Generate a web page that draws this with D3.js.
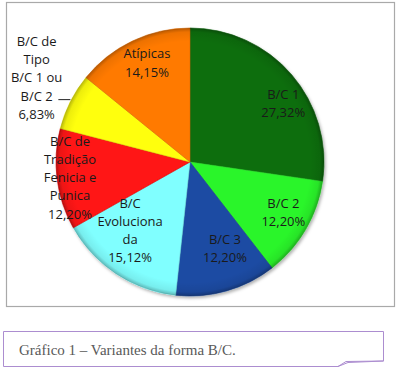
<!DOCTYPE html>
<html>
<head>
<meta charset="utf-8">
<script src="https://cdn.jsdelivr.net/npm/d3@7"></script>
<style>
  html, body { margin: 0; padding: 0; background: #fff; }
  #chart { width: 399px; height: 368px; }
</style>
</head>
<body>
<div id="chart"></div>
<script>
// categorias e valores (%)
const categories = ["B/C 1", "B/C 2", "B/C 3", "B/C Evolucionada", "B/C de Tradição Fenicia e Punica", "B/C de Tipo B/C 1 ou B/C 2", "Atípicas"];
const values = [27.32, 12.20, 12.20, 15.12, 12.20, 6.83, 14.15];
const valueLabels = ["27,32%", "12,20%", "12,20%", "15,12%", "12,20%", "6,83%", "14,15%"];
// quebras de linha como no original
const labelLines = [
  ["B/C 1"],
  ["B/C 2"],
  ["B/C 3"],
  ["B/C", "Evoluciona", "da"],
  ["B/C de", "Tradição", "Fenicia e", "Punica"],
  ["B/C de", "Tipo", "B/C 1 ou", "B/C 2"],
  ["Atípicas"]
];
const colors = ["#0c6e0c", "#2cf52c", "#1c4ba3", "#80ffff", "#ff1212", "#ffff10", "#ff7a05"];

// posição dos rótulos: desvio angular (graus) e raio (px)
const labelLayout = [
  { shift: 8.8, r: 110 },
  { shift: -2, r: 106 },
  { shift: -6.3, r: 93 },
  { shift: 7.8, r: 91 },
  { shift: 0, r: 121 },
  { shift: 2, r: 175, leader: true },
  { shift: 2, r: 108 }
];

const W = 399, H = 368;
const cx = 190, cy = 162, R = 134;
const lineH = 18.2;

const svg = d3.select("#chart").append("svg")
  .attr("width", W).attr("height", H);

const defs = svg.append("defs");
const rim = defs.append("radialGradient").attr("id", "rim")
  .attr("cx", "50%").attr("cy", "50%").attr("r", "50%");
rim.append("stop").attr("offset", "0.9").attr("stop-color", "#000").attr("stop-opacity", 0);
rim.append("stop").attr("offset", "0.97").attr("stop-color", "#000").attr("stop-opacity", 0.07);
rim.append("stop").attr("offset", "1").attr("stop-color", "#000").attr("stop-opacity", 0.28);

const shadow = defs.append("filter").attr("id", "shadow")
  .attr("x", "-10%").attr("y", "-10%").attr("width", "125%").attr("height", "125%");
shadow.append("feDropShadow").attr("dx", 1.5).attr("dy", 2).attr("stdDeviation", 1.8)
  .attr("flood-color", "#000").attr("flood-opacity", 0.3);

// moldura do gráfico
svg.append("rect")
  .attr("x", 6.5).attr("y", 2.5).attr("width", 388).attr("height", 304)
  .attr("fill", "#fff").attr("stroke", "#a9a9a9").attr("stroke-width", 1.2);

const pie = d3.pie().sort(null).value(d => d);
const arcs = pie(values);
const arc = d3.arc().innerRadius(0).outerRadius(R);

const g = svg.append("g").attr("transform", `translate(${cx},${cy})`);

const slices = g.append("g").attr("filter", "url(#shadow)");
slices.selectAll("path.slice")
  .data(arcs)
  .enter()
  .append("path")
  .attr("class", "slice")
  .attr("d", arc)
  .attr("fill", (d, i) => colors[i])
  .attr("stroke", (d, i) => d3.color(colors[i]).darker(0.4))
  .attr("stroke-width", 0.6);

g.append("circle").attr("r", R).attr("fill", "url(#rim)").attr("pointer-events", "none");

// rótulos
const font = "'Open Sans', 'Noto Sans', sans-serif";
arcs.forEach((d, i) => {
  const lay = labelLayout[i];
  const mid = (d.startAngle + d.endAngle) / 2 + lay.shift * Math.PI / 180;
  const lx = Math.sin(mid) * lay.r;
  const ly = -Math.cos(mid) * lay.r;
  const lines = labelLines[i].concat([valueLabels[i]]);
  const top = ly - (lines.length - 1) * lineH / 2;

  const t = g.append("text")
    .attr("text-anchor", "middle")
    .attr("fill", "#1a1a1a")
    .style("font-family", font)
    .style("font-size", "13px");
  lines.forEach((ln, j) => {
    t.append("tspan")
      .attr("x", lx)
      .attr("y", top + j * lineH)
      .attr("dy", "0.35em")
      .text(ln);
  });

  if (lay.leader) {
    const m0 = (d.startAngle + d.endAngle) / 2;
    const ex = Math.sin(m0) * R, ey = -Math.cos(m0) * R;
    g.append("path")
      .attr("d", `M${ex},${ey - 2}L${ex - 12},${ey - 2}`)
      .attr("stroke", "#222").attr("stroke-width", 1).attr("fill", "none");
  }
});

// legenda (caixa com canto dobrado)
svg.append("path")
  .attr("d", "M3.5,331.5H383.5V361L348,362.5L338,366.5H3.5Z")
  .attr("fill", "#fff").attr("stroke", "#ac8dd0").attr("stroke-width", 1);
svg.append("path")
  .attr("d", "M338,366.5L346,361.5L383.5,361")
  .attr("fill", "none").attr("stroke", "#ac8dd0").attr("stroke-width", 1);

svg.append("text")
  .attr("x", 19).attr("y", 355)
  .attr("fill", "#595959")
  .style("font-family", "'Liberation Serif', 'Times New Roman', serif")
  .style("font-size", "15px")
  .text("Gráfico 1 – Variantes da forma B/C.");
</script>
</body>
</html>
